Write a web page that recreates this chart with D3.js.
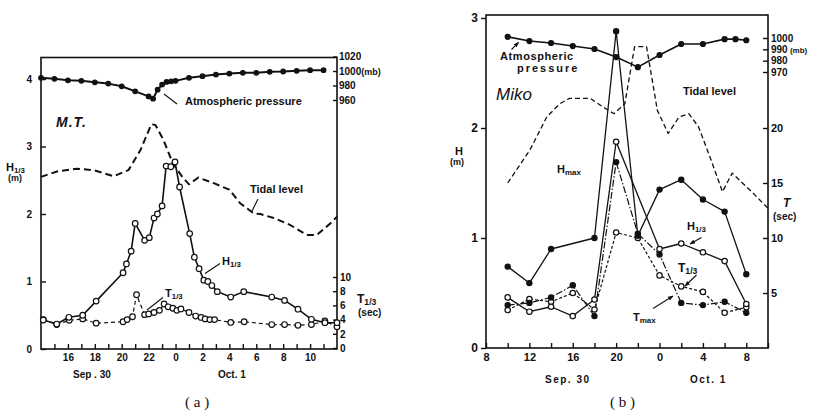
<!DOCTYPE html>
<html><head><meta charset="utf-8">
<script src="https://cdn.jsdelivr.net/npm/d3@7"></script>
<style>
body{margin:0;background:#fff;}
svg{display:block;}
text{font-family:"Liberation Sans",Arial,sans-serif;font-weight:bold;fill:#111;}
</style></head><body>
<svg id="c" width="822" height="411"></svg>
<script>
// ---------- Panel (a): M.T. (hour counted from Sep 30 00h) ----------
const A_PRESSURE = [[14,990.6],[15,989.2],[16,987.2],[17,986.4],[18,984.4],[19,982.6],[20,978.9],[21,971.9],[22,965],[22.33,961.8],[22.67,974.3],[23,981.3],[23.33,985],[23.67,985.8],[24,986.4],[25,990.6],[26,992.8],[27,995.1],[28,996.5],[29,997.5],[30,997.5],[31,998.9],[32,999.3],[33,1000.3],[34,1001.1],[35,1001.1]];
const A_TIDE = [[14,2.55],[15.2,2.63],[16.65,2.67],[17.9,2.65],[19.4,2.56],[20.5,2.65],[21.4,2.95],[22.2,3.33],[22.5,3.32],[23.1,3.10],[23.8,2.75],[24.5,2.55],[25,2.44],[25.7,2.54],[26.8,2.46],[28,2.36],[28.8,2.16],[29.8,2.01],[30.3,2.0],[31.3,1.94],[32.5,1.84],[33.75,1.69],[34.5,1.69],[35.5,1.86],[36,1.96]];
const A_H13 = [[14.17,0.43],[15.17,0.37],[16.07,0.47],[17.1,0.50],[18.1,0.71],[20.1,1.13],[20.35,1.26],[20.7,1.45],[21.0,1.86],[21.7,1.61],[22.05,1.65],[22.4,1.94],[22.65,2.00],[23.0,2.12],[23.3,2.71],[23.65,2.70],[23.96,2.77],[24.3,2.40],[25.05,1.71],[25.4,1.36],[25.75,1.19],[26.1,1.02],[26.4,1.00],[26.7,0.94],[27.1,0.85],[28.1,0.77],[29.07,0.85],[31.15,0.77],[32.1,0.72],[33.1,0.59],[34.1,0.44],[35.1,0.39],[36,0.39]];
const A_T13 = [[14.17,4.0],[15.17,3.3],[16.1,3.9],[17.1,4.1],[18.1,3.5],[20.1,3.7],[20.4,4.0],[20.8,4.4],[21.1,7.5],[21.7,4.7],[22.0,4.8],[22.4,5.0],[22.8,5.3],[23.15,6.2],[23.45,5.8],[23.8,5.6],[24.1,5.3],[24.4,5.5],[25.0,5.0],[25.5,4.5],[25.9,4.3],[26.2,4.1],[26.55,4.0],[26.9,4.0],[28.1,3.6],[29.1,3.7],[31.15,3.3],[32.1,3.3],[33.1,3.2],[34.1,3.3],[35.1,3.8],[36,3.0]];
const A_X_TICKS = d3.range(15,36);
const A_X_LABELS = [16,18,20,22,24,26,28,30,32,34];
const A_Y_TICKS = [0,1,2,3,4];
const A_T_TICKS = [0,2,4,6,8,10];
const A_P_TICKS = [960,980,1000,1020];

// ---------- Panel (b): Miko ----------
const B_PRESSURE = [[10,1001],[12,997.3],[14,995.6],[16,992.9],[18,990.3],[20,983.2],[22,974.3],[24,985],[26,994.7],[28,994.7],[30,999],[31,999],[32,998]];
const B_TIDE = [[10,1.50],[12.05,1.80],[13.6,2.10],[14.8,2.22],[15.7,2.27],[17.6,2.27],[18.8,2.19],[19.8,2.13],[20.8,2.22],[21.7,2.74],[22.8,2.74],[23.8,2.16],[24.8,1.95],[25.8,2.10],[26.7,2.13],[27.6,2.01],[28.75,1.71],[29.8,1.42],[30.7,1.59],[32.6,1.41],[34,1.27]];
const B_HMAX = [[10,0.74],[12,0.59],[14,0.90],[18,1.00],[20,2.88],[22,1.02],[24,1.44],[26,1.53],[28,1.35],[30,1.24],[32,0.67]];
const B_H13 = [[10,0.46],[12,0.33],[14,0.375],[16,0.29],[18,0.44],[20,1.875],[24,0.90],[26,0.95],[28,0.87],[30,0.79],[32,0.40]];
const B_T13 = [[10,3.45],[12,4.45],[14,4.2],[16,5.0],[18,3.5],[20,10.5],[22,10.0],[24,6.6],[26,5.6],[28,5.1],[30,3.2],[32,3.7]];
const B_TMAX = [[10,3.9],[12,4.1],[14,4.6],[16,5.7],[18,2.9],[20,16.9],[22,10.4],[24,8.5],[26,4.1],[28,3.9],[30,4.2],[32,3.2]];
const B_X_TICKS = d3.range(8,35,2);
const B_X_LABELS = [8,12,16,20,24,28,32];
const B_Y_TICKS = [0,1,2,3];
const B_T_TICKS = [5,10,15,20];
const B_P_TICKS = [970,980,990,1000];

const svg = d3.select("#c");
const defs = svg.append("defs");
defs.append("marker").attr("id","ah").attr("viewBox","0 0 10 10").attr("refX",9).attr("refY",5)
  .attr("markerWidth",5).attr("markerHeight",5).attr("orient","auto")
  .append("path").attr("d","M0,1 L10,5 L0,9 Z").attr("fill","#111");

const fmt = d3.format("d");
function styleAxis(g, fs){
  g.selectAll(".tick line").attr("stroke","#111").attr("stroke-width",1.4);
  g.selectAll(".tick text").style("font-size",fs+"px").style("font-weight","bold")
   .style("font-family","'Liberation Sans',Arial,sans-serif").attr("fill","#111");
  g.select(".domain").remove();
}
function plotLine(g, data, x, y, opt){
  g.append("path").datum(data)
   .attr("d", d3.line().x(d=>x(d[0])).y(d=>y(d[1])))
   .attr("fill","none").attr("stroke","#111")
   .attr("stroke-width",opt.w||1.4)
   .attr("stroke-dasharray",opt.dash||null)
   .attr("stroke-linejoin","round");
}
function plotDots(g, data, x, y, r, filled, sw){
  g.selectAll(null).data(data).enter().append("circle")
   .attr("cx",d=>x(d[0])).attr("cy",d=>y(d[1])).attr("r",r)
   .attr("fill",filled?"#111":"#fff").attr("stroke","#111").attr("stroke-width",sw||1.2);
}
function label(g, x, y, txt, fs, opts){
  opts = opts||{};
  const t = g.append("text").attr("x",x).attr("y",y).style("font-size",fs+"px");
  if(opts.italic) t.style("font-style","italic");
  if(opts.ls) t.style("letter-spacing",opts.ls+"px");
  if(opts.serif) t.style("font-family","'Liberation Serif',serif").style("font-weight","normal");
  if(opts.sub){
    t.append("tspan").text(txt);
    t.append("tspan").text(opts.sub).style("font-size",(fs*0.72)+"px").attr("dy",1.5);
  } else t.text(txt);
  return t;
}
function arrow(g, x1,y1,x2,y2){
  g.append("line").attr("x1",x1).attr("y1",y1).attr("x2",x2).attr("y2",y2)
   .attr("stroke","#111").attr("stroke-width",1.1).attr("marker-end","url(#ah)");
}
function seg(g, x1,y1,x2,y2){
  g.append("line").attr("x1",x1).attr("y1",y1).attr("x2",x2).attr("y2",y2)
   .attr("stroke","#111").attr("stroke-width",1.1);
}

// ================= Panel (a) =================
const gA = svg.append("g");
const xA = d3.scaleLinear().domain([14,36]).range([41,337]);
const yA = d3.scaleLinear().domain([0,4]).range([349,79]);
const tA = d3.scaleLinear().domain([0,10]).range([348,277]);
const pA = d3.scaleLinear().domain([960,1020]).range([100,56.5]);

gA.append("rect").attr("x",41).attr("y",57.5).attr("width",296).attr("height",291.5)
  .attr("fill","none").attr("stroke","#111").attr("stroke-width",1.6);

gA.append("g").attr("transform","translate(41,0)")
  .call(d3.axisLeft(yA).tickValues(A_Y_TICKS).tickSize(-5).tickPadding(9).tickFormat(fmt))
  .call(g=>styleAxis(g,10));
gA.append("g").attr("transform","translate(0,349)")
  .call(d3.axisBottom(xA).tickValues(A_X_TICKS).tickSize(-5).tickPadding(5)
    .tickFormat(d=>A_X_LABELS.includes(d)?String(d%24):""))
  .call(g=>styleAxis(g,10));
gA.append("g").attr("transform","translate(337,0)")
  .call(d3.axisRight(tA).tickValues(A_T_TICKS).tickSize(-4).tickPadding(3).tickFormat(fmt))
  .call(g=>styleAxis(g,10));
gA.append("g").attr("transform","translate(337,0)")
  .call(d3.axisRight(pA).tickValues(A_P_TICKS).tickSize(-4).tickPadding(2).tickFormat(fmt))
  .call(g=>styleAxis(g,10))
  .call(g=>g.selectAll(".tick text").filter(d=>d===1000).append("tspan").text("(mb)").style("font-size","9px"));

plotLine(gA, A_TIDE, xA, yA, {w:2, dash:"7,4"});
plotLine(gA, A_T13, xA, tA, {w:1.2, dash:"4,3"});
plotLine(gA, A_H13, xA, yA, {w:1.6});
plotLine(gA, A_PRESSURE, xA, pA, {w:2});
plotDots(gA, A_T13, xA, tA, 2.8, false);
plotDots(gA, A_H13, xA, yA, 2.8, false);
plotDots(gA, A_PRESSURE, xA, pA, 2.3, true);

label(gA, 56, 127, "M.T.", 14, {italic:true, ls:1});
label(gA, 6, 171, "H", 11, {sub:"1/3"});
label(gA, 8, 181, "(m)", 9);
label(gA, 185, 105, "Atmospheric pressure", 11);
seg(gA, 164, 94, 177, 104);
label(gA, 250, 193, "Tidal level", 11);
seg(gA, 258, 199, 251.5, 212);
label(gA, 222, 265, "H", 11, {sub:"1/3"});
seg(gA, 220, 263.5, 205, 273.5);
label(gA, 165, 297, "T", 11, {sub:"1/3"});
seg(gA, 163, 297.5, 147, 310);
label(gA, 357, 303, "T", 12, {sub:"1/3"});
label(gA, 358, 316, "(sec)", 10);
label(gA, 73, 378, "Sep . 30", 10);
label(gA, 218, 378, "Oct. 1", 10);
label(gA, 185, 407, "( a )", 15, {serif:true});

// ================= Panel (b) =================
const gB = svg.append("g");
const xB = d3.scaleLinear().domain([8,34]).range([486,768]);
const yB = d3.scaleLinear().domain([0,3]).range([348,18]);
const tB = d3.scaleLinear().domain([0,30]).range([348,18]);
const pB = d3.scaleLinear().domain([970,1000]).range([72,38]);

gB.append("rect").attr("x",486).attr("y",15).attr("width",282).attr("height",333)
  .attr("fill","none").attr("stroke","#111").attr("stroke-width",1.6);

gB.append("g").attr("transform","translate(486,0)")
  .call(d3.axisLeft(yB).tickValues(B_Y_TICKS).tickSize(5).tickPadding(3).tickFormat(fmt))
  .call(g=>styleAxis(g,12));
gB.append("g").attr("transform","translate(0,348)")
  .call(d3.axisBottom(xB).tickValues(B_X_TICKS).tickSize(-5).tickPadding(5)
    .tickFormat(d=>B_X_LABELS.includes(d)?String(d%24):""))
  .call(g=>styleAxis(g,11));
gB.append("g").attr("transform","translate(768,0)")
  .call(d3.axisRight(tB).tickValues(B_T_TICKS).tickSize(-5).tickPadding(3).tickFormat(fmt))
  .call(g=>styleAxis(g,11));
gB.append("g").attr("transform","translate(768,0)")
  .call(d3.axisRight(pB).tickValues(B_P_TICKS).tickSize(-5).tickPadding(3).tickFormat(fmt))
  .call(g=>styleAxis(g,10))
  .call(g=>g.selectAll(".tick text").filter(d=>d===990).append("tspan").text(" (mb)").style("font-size","8px"));

plotLine(gB, B_TIDE, xB, yB, {w:1.3, dash:"5,3"});
plotLine(gB, B_T13, xB, tB, {w:1.2, dash:"3,2"});
plotLine(gB, B_TMAX, xB, tB, {w:1.2, dash:"7,2,1.5,2"});
plotLine(gB, B_H13, xB, yB, {w:1.3});
plotLine(gB, B_HMAX, xB, yB, {w:1.3});
plotLine(gB, B_PRESSURE, xB, pB, {w:1.6});
plotDots(gB, B_T13, xB, tB, 2.7, false);
plotDots(gB, B_TMAX, xB, tB, 2.6, true);
plotDots(gB, B_H13, xB, yB, 2.7, false);
plotDots(gB, B_HMAX, xB, yB, 2.6, true);
plotDots(gB, B_PRESSURE, xB, pB, 2.5, true);

label(gB, 455, 155, "H", 11);
label(gB, 450, 165, "(m)", 9);
label(gB, 496, 100, "Miko", 17, {italic:true}).style("font-weight","normal");
label(gB, 500, 60, "Atmospheric", 11, {ls:0.6});
label(gB, 517, 72, "pressure", 11, {ls:2});
arrow(gB, 511.5, 49.5, 518.5, 42.5);
label(gB, 683, 95, "Tidal level", 11);
label(gB, 557, 173, "H", 11, {sub:"max"});
label(gB, 687, 230, "H", 11, {sub:"1/3"});
arrow(gB, 701.5, 237.5, 690, 244);
label(gB, 678, 272, "T", 12, {sub:"1/3"});
arrow(gB, 696.5, 275, 685, 286);
label(gB, 633, 321, "T", 11, {sub:"max"});
arrow(gB, 653, 308.5, 673, 296);
label(gB, 783, 207, "T", 12, {italic:true});
label(gB, 773, 220, "(sec)", 10);
label(gB, 545, 383, "Sep. 30", 10, {ls:1.5});
label(gB, 690, 383, "Oct. 1", 10, {ls:1.5});
label(gB, 610, 407, "( b )", 15, {serif:true});
</script>
</body></html>
